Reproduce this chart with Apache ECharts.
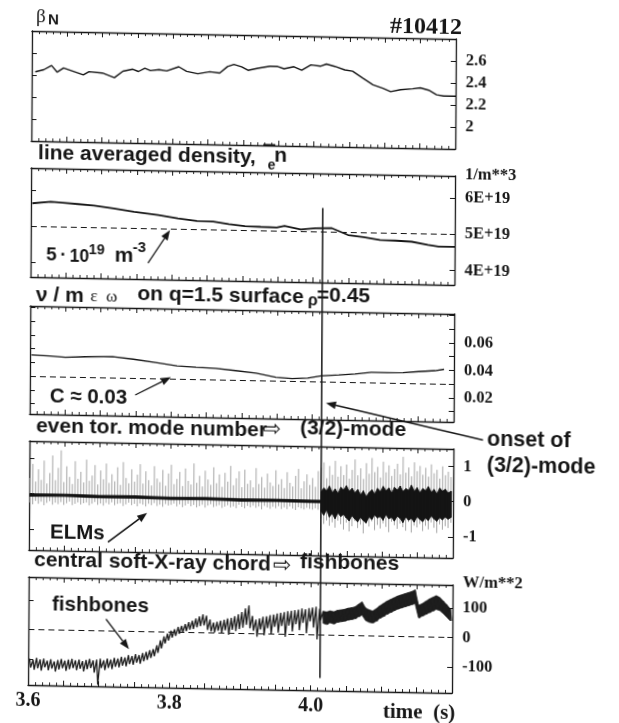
<!DOCTYPE html>
<html>
<head>
<meta charset="utf-8">
<script src="https://cdn.jsdelivr.net/npm/echarts@6/dist/echarts.min.js"></script>
<style>
  html, body { margin: 0; padding: 0; background: #fff; overflow: hidden; }
  /* the printed figure sits slightly skewed on the page */
  #chart { width: 619px; height: 723px; background: #fff;
           transform-origin: 32px 31px; transform: matrix(1, 0.0189, -0.006, 1, 0, 0); }
</style>
</head>
<body>
<div id="chart"></div>
<script>
// ---------- shot #10412, time traces ----------
const timeRange = [3.6, 4.2];
const timeLabels = [3.6, 3.8, 4.0];

// normalised beta
const betaTime = [3.605,3.617,3.628,3.636,3.645,3.659,3.673,3.681,3.700,3.717,3.729,3.743,3.751,3.760,3.768,3.780,3.791,3.808,3.819,3.835,3.852,3.866,3.877,3.886,3.897,3.906,3.920,3.937,3.948,3.957,3.971,3.982,3.995,4.009,4.017,4.029,4.043,4.054,4.068,4.083,4.097,4.108,4.122,4.139,4.150,4.162,4.173,4.183,4.200];
const betaN = [2.43,2.45,2.49,2.43,2.47,2.44,2.41,2.44,2.43,2.39,2.45,2.47,2.45,2.48,2.46,2.47,2.46,2.50,2.46,2.44,2.46,2.45,2.51,2.53,2.51,2.48,2.50,2.52,2.52,2.50,2.52,2.49,2.54,2.53,2.55,2.53,2.50,2.49,2.43,2.37,2.34,2.31,2.33,2.34,2.35,2.33,2.29,2.28,2.28];
const betaTicks = [2.0, 2.2, 2.4, 2.6];

// line averaged density (units of 1e19 m^-3)
const densityTime = [3.602,3.628,3.645,3.667,3.689,3.717,3.746,3.780,3.808,3.835,3.858,3.880,3.903,3.925,3.948,3.959,3.982,4.003,4.026,4.049,4.071,4.094,4.116,4.139,4.162,4.177,4.200];
const density = [5.63,5.68,5.66,5.63,5.60,5.53,5.45,5.37,5.29,5.23,5.22,5.16,5.11,5.10,5.09,5.14,5.05,5.09,5.10,4.92,4.87,4.80,4.79,4.77,4.69,4.65,4.65];
const densityTicks = [4, 5, 6];
const densityRef = 5;

// collisionality nu / (m eps omega) on q=1.5
const nuTime = [3.602,3.628,3.650,3.678,3.717,3.746,3.780,3.808,3.835,3.863,3.891,3.920,3.948,3.971,3.993,4.012,4.037,4.060,4.083,4.105,4.128,4.150,4.173,4.186];
const nu = [0.0455,0.0450,0.0443,0.0449,0.0454,0.0438,0.0416,0.0395,0.0388,0.0383,0.0369,0.0353,0.0326,0.0319,0.0324,0.0342,0.0351,0.0361,0.0375,0.0375,0.0377,0.0387,0.0396,0.0407];
const nuTicks = [0.01,0.02,0.03,0.04,0.05,0.06,0.07,0.08];
const nuLabels = [0.02, 0.04, 0.06];
const nuCritical = 0.03;

// even toroidal mode number signal: per-bin max / min (bins of 4 ms from 3.601 s)
const modeT0 = 3.601, modeDt = 0.004, modeBurstFrom = 103;
const modeHi = [
  0.45,0.85,0.35,0.7,0.4,0.95,0.3,0.6,1.1,0.4,
  0.75,1.25,0.35,0.8,0.5,0.3,0.95,0.45,0.65,0.35,
  1.0,0.4,0.55,0.85,0.3,0.7,0.45,0.9,0.35,0.6,
  0.4,0.8,0.3,0.95,0.5,0.35,0.75,0.4,0.6,0.9,
  0.35,0.7,0.45,0.3,0.85,0.5,0.4,0.75,0.3,0.65,
  0.9,0.35,0.5,0.7,0.3,0.8,0.45,0.35,0.95,0.4,
  0.6,0.3,0.75,0.5,0.35,0.85,0.4,0.65,0.3,0.7,
  0.45,0.9,0.35,0.55,0.75,0.3,0.8,0.4,0.5,0.3,
  0.85,0.4,0.6,0.3,0.7,0.45,0.35,0.8,0.4,0.55,
  0.3,0.75,0.45,0.35,0.65,0.85,0.3,0.5,0.7,0.4,
  0.6,0.35,0.8,
  0.9,1.05,0.6,0.95,0.7,1.1,0.65,
  0.95,0.7,1.0,0.6,0.85,1.15,0.7,0.9,0.6,1.05,
  0.75,1.2,0.8,0.95,0.65,1.1,0.8,1.0,0.7,0.9,
  1.05,0.75,1.25,0.8,0.95,0.7,1.1,0.85,1.0,0.75,
  0.95,0.7,1.05,0.8,0.9,0.65,1.0,0.75,0.85,0.7];
const modeLo = [
  -0.25,-0.3,-0.2,-0.28,-0.22,-0.32,-0.25,-0.2,-0.3,-0.24,
  -0.28,-0.22,-0.3,-0.25,-0.2,-0.3,-0.26,-0.22,-0.28,-0.24,
  -0.22,-0.3,-0.25,-0.2,-0.28,-0.24,-0.3,-0.22,-0.26,-0.2,
  -0.28,-0.24,-0.22,-0.3,-0.25,-0.2,-0.27,-0.23,-0.3,-0.22,
  -0.25,-0.3,-0.22,-0.26,-0.2,-0.28,-0.24,-0.3,-0.22,-0.26,
  -0.24,-0.2,-0.28,-0.22,-0.3,-0.25,-0.2,-0.27,-0.23,-0.3,
  -0.26,-0.22,-0.3,-0.24,-0.2,-0.28,-0.25,-0.22,-0.3,-0.26,
  -0.22,-0.28,-0.25,-0.3,-0.2,-0.26,-0.3,-0.23,-0.27,-0.22,
  -0.28,-0.24,-0.32,-0.22,-0.26,-0.3,-0.24,-0.28,-0.22,-0.3,
  -0.25,-0.3,-0.22,-0.28,-0.32,-0.24,-0.27,-0.3,-0.25,-0.28,
  -0.3,-0.26,-0.3,
  -0.55,-0.7,-0.6,-0.75,-0.65,-0.8,-0.6,
  -0.7,-0.85,-0.65,-0.9,-0.75,-0.6,-0.8,-0.7,-0.95,-0.65,
  -0.75,-0.6,-0.85,-0.7,-0.8,-0.65,-0.75,-0.9,-0.6,-0.7,
  -0.8,-0.65,-0.75,-0.85,-0.6,-0.9,-0.7,-0.75,-0.65,-0.85,
  -0.7,-0.8,-0.6,-0.75,-0.9,-0.65,-0.8,-0.7,-0.75,-0.6];
// dark core of the signal before the mode sets in
const coreTime = [3.600,3.650,3.700,3.750,3.800,3.850,3.900,3.950,4.000,4.013];
const coreHi = [0.00,0.01,-0.01,0.00,-0.02,-0.01,-0.03,-0.02,-0.03,-0.03];
const coreLo = [-0.07,-0.06,-0.08,-0.07,-0.09,-0.08,-0.10,-0.09,-0.10,-0.10];
// dense (3/2)-mode oscillation after onset, same 4 ms bins from bin 103
const burstHi = [0.22,0.32,0.25,0.38,0.2,0.3,0.18,
  0.35,0.28,0.4,0.24,0.33,0.2,0.3,0.15,0.26,0.1,
  0.22,0.3,0.18,0.34,0.25,0.4,0.28,0.36,0.22,0.38,
  0.3,0.42,0.26,0.35,0.3,0.45,0.28,0.38,0.24,0.36,
  0.3,0.42,0.26,0.34,0.22,0.38,0.3,0.35,0.25,0.3];
const burstLo = [-0.35,-0.45,-0.3,-0.5,-0.4,-0.55,-0.38,
  -0.48,-0.42,-0.52,-0.6,-0.45,-0.55,-0.62,-0.5,-0.58,-0.65,
  -0.48,-0.55,-0.42,-0.5,-0.46,-0.56,-0.4,-0.52,-0.48,-0.58,
  -0.44,-0.5,-0.62,-0.46,-0.55,-0.5,-0.6,-0.45,-0.52,-0.58,
  -0.48,-0.55,-0.42,-0.5,-0.56,-0.46,-0.52,-0.44,-0.5,-0.45];
const modeTicks = [-1, 0, 1];

// central soft-X-ray chord (W/m^2): sawtooth peaks and crashes, 5 ms bins from 3.602 s
const sxrT0 = 3.602, sxrDt = 0.005, sxrCrash = 0.0015, sxrBandFrom = 83;
const sxrHi = [
  -98,-102,-95,-100,-97,-104,-99,-106,-101,-97,
  -103,-99,-96,-101,-98,-103,-99,-95,-100,-97,
  -94,-99,-93,-96,-90,-92,-86,-88,-80,-83,
  -76,-79,-72,-68,-62,-58,-45,-28,-15,-5,
  5,10,18,22,28,35,40,48,55,62,
  58,45,35,38,42,45,50,52,58,65,
  72,85,95,60,48,52,58,60,64,66,
  70,72,75,78,80,82,84,88,86,90,
  92,95,88,80,78,82,79,84,86,88,
  92,94,97,106,114,94,88,84,92,102,
  110,118,124,130,136,140,144,148,152,158,
  106,112,120,128,134,140,134,122,110,96];
const sxrLo = [
  -128,-135,-130,-138,-126,-136,-130,-140,-133,-128,
  -137,-131,-127,-134,-129,-138,-130,-126,-141,-182,
  -125,-132,-124,-128,-120,-122,-116,-118,-110,-112,
  -105,-108,-100,-95,-88,-82,-70,-55,-38,-28,
  -18,-12,-5,0,5,10,12,18,22,25,
  10,5,2,8,0,10,-5,12,8,15,
  20,30,18,10,-10,15,-5,20,0,25,
  5,28,-8,30,10,35,15,40,5,45,
  25,-15,50,40,36,42,38,44,46,48,
  52,54,57,64,70,52,46,44,50,60,
  66,74,80,86,92,96,100,104,108,112,
  64,70,76,82,88,94,90,80,68,56];
const sxrTicks = [-100, 0, 100];
const sxrRef = 0;

// onset of the (3/2) mode
const onsetTime = 4.013;
const onsetFromDensity = 5.65;   // marker starts inside the density trace box
const onsetToSxr = -145;         // and ends near the bottom of the soft-X-ray box

// ---------- layout ----------
const INK = '#161616';
const SANS = '"Liberation Sans", Arial, sans-serif';
const SERIF = '"Liberation Serif", "Times New Roman", serif';

const panelBoxes = [
  { top: 31,  height: 110 },
  { top: 168, height: 109 },
  { top: 306, height: 108 },
  { top: 441, height: 109 },
  { top: 577, height: 108 }
];
const panelScales = [
  { min: 1.8,    max: 2.8,    ticks: betaTicks,    labels: betaTicks,    fmt: v => (Math.abs(v - 2) < 1e-9 ? '2' : v.toFixed(1)) },
  { min: 3.6,    max: 6.6,    ticks: densityTicks, labels: densityTicks, fmt: v => Math.round(v) + 'E+19' },
  { min: 0.0025, max: 0.0811, ticks: nuTicks,      labels: nuLabels,     fmt: v => v.toFixed(2) },
  { min: -1.6,   max: 1.5,    ticks: modeTicks,    labels: modeTicks,    fmt: v => String(Math.round(v)) },
  { min: -187,   max: 177,    ticks: sxrTicks,     labels: sxrTicks,     fmt: v => String(Math.round(v)) }
];

const grid = [], xAxis = [], yAxis = [];
panelBoxes.forEach((b, k) => {
  grid.push({ left: 32, width: 424, top: b.top, height: b.height });
  const xBase = {
    type: 'value', gridIndex: k, min: timeRange[0], max: timeRange[1], interval: 0.05,
    axisLine: { show: true, onZero: false, lineStyle: { color: INK, width: 1.3 } },
    axisTick: { show: true, inside: true, length: 5, lineStyle: { color: INK, width: 1 } },
    minorTick: { show: true, splitNumber: 5, length: 3, lineStyle: { color: INK, width: 0.9 } },
    splitLine: { show: false }, minorSplitLine: { show: false }
  };
  const last = k === panelBoxes.length - 1;
  xAxis.push(Object.assign({}, xBase, {
    position: 'bottom',
    axisLabel: last ? {
      show: true, customValues: timeLabels, margin: 6,
      formatter: v => (timeLabels.some(t => Math.abs(t - v) < 1e-6) ? v.toFixed(1) : ''),
      fontFamily: SERIF, fontWeight: 'bold', fontSize: 20, color: INK
    } : { show: false }
  }));
  xAxis.push(Object.assign({}, xBase, { position: 'top', axisLabel: { show: false } }));

  const s = panelScales[k];
  const yBase = {
    type: 'value', gridIndex: k, min: s.min, max: s.max,
    axisLine: { show: true, onZero: false, lineStyle: { color: INK, width: 1.3 } },
    axisTick: { show: true, inside: true, length: 5, customValues: s.ticks, lineStyle: { color: INK, width: 1 } },
    splitLine: { show: false }
  };
  yAxis.push(Object.assign({}, yBase, { position: 'left', axisLabel: { show: false } }));
  yAxis.push(Object.assign({}, yBase, {
    position: 'right',
    axisLabel: { show: true, customValues: s.labels, formatter: s.fmt, margin: 10,
                 fontFamily: SERIF, fontWeight: 'bold', fontSize: 16.5, color: INK }
  }));
});

const pairs = (ts, vs) => ts.map((t, i) => [t, vs[i]]);
const dashed = (v) => ({
  silent: true, symbol: 'none', label: { show: false },
  lineStyle: { type: [6, 4], color: INK, width: 1 },
  data: [{ yAxis: v }]
});
const onPanel = (k) => ({ xAxisIndex: 2 * k, yAxisIndex: 2 * k + 1 });
const lineBase = { type: 'line', symbol: 'none', silent: true, animation: false };

// min/max envelope drawn as one vertical stroke per time bin
function envelopeStrokes(k, rows, color, width) {
  return Object.assign({ type: 'custom', silent: true, animation: false, clip: true }, onPanel(k), {
    data: rows, encode: { x: 0, y: [1, 2] },
    renderItem: (params, api) => {
      const a = api.coord([api.value(0), api.value(1)]);
      const b = api.coord([api.value(0), api.value(2)]);
      return { type: 'line', shape: { x1: a[0], y1: a[1], x2: b[0], y2: b[1] },
               style: { stroke: color, lineWidth: width } };
    }
  });
}
// filled band between a lower and an upper trace
function filledBand(k, rows, color) {
  return Object.assign({ type: 'custom', silent: true, animation: false, clip: true }, onPanel(k), {
    data: rows, encode: { x: 0, y: [1, 2] },
    renderItem: (params, api) => {
      if (params.dataIndex !== 0) return null;
      const upper = rows.map(r => api.coord([r[0], r[2]]));
      const lower = rows.map(r => api.coord([r[0], r[1]])).reverse();
      return { type: 'polygon', shape: { points: upper.concat(lower) },
               style: { fill: color, stroke: color, lineWidth: 0.8 } };
    }
  });
}

const modeRows = modeHi.map((h, i) => [modeT0 + i * modeDt, modeLo[i], h]);
const coreRows = coreTime.map((t, i) => [t, coreLo[i], coreHi[i]]);
const burstRows = burstHi.map((h, i) => [modeT0 + (modeBurstFrom + i) * modeDt, burstLo[i], h]);
// sawtooth: peak, then crash
const sxrTrace = [];
sxrHi.forEach((h, i) => {
  const t = sxrT0 + i * sxrDt;
  sxrTrace.push([t, h]);
  sxrTrace.push([t + sxrCrash, sxrLo[i]]);
});
const sxrBandRows = [];
for (let i = sxrBandFrom; i < sxrHi.length; i++) sxrBandRows.push([sxrT0 + i * sxrDt, sxrLo[i], sxrHi[i]]);

const series = [
  Object.assign({}, lineBase, onPanel(0), { data: pairs(betaTime, betaN), lineStyle: { color: INK, width: 1.4 } }),
  Object.assign({}, lineBase, onPanel(1), { data: pairs(densityTime, density), lineStyle: { color: INK, width: 1.8 },
    markLine: dashed(densityRef) }),
  Object.assign({}, lineBase, onPanel(2), { data: pairs(nuTime, nu), lineStyle: { color: INK, width: 1.3 },
    markLine: dashed(nuCritical) }),
  envelopeStrokes(3, modeRows, '#8e8e8e', 0.8),
  filledBand(3, coreRows, '#111'),
  filledBand(3, burstRows, '#141414'),
  envelopeStrokes(3, burstRows, '#141414', 1.4),
  Object.assign({}, lineBase, onPanel(4), { data: sxrTrace, lineStyle: { color: '#1e1e1e', width: 1.3 },
    markLine: dashed(sxrRef) }),
  filledBand(4, sxrBandRows, '#1c1c1c')
];

const chart = echarts.init(document.getElementById('chart'), null, { renderer: 'canvas' });
chart.setOption({ animation: false, backgroundColor: '#fff', grid, xAxis, yAxis, series });

// ---------- titles, units and annotations ----------
const g = [];
function text(str, x, baseline, size, family, weight, align) {
  const asc = family === SERIF ? 0.3375 : 0.3465;
  g.push({ type: 'text', silent: true, z: 60, x: x, y: baseline - asc * size,
    style: { text: str, fill: INK, font: `${weight || 'normal'} ${size}px ${family}`,
             align: align || 'left', verticalAlign: 'middle' } });
}
function centred(str, x, middle, size, family, weight, align) {
  g.push({ type: 'text', silent: true, z: 60, x: x, y: middle,
    style: { text: str, fill: INK, font: `${weight || 'normal'} ${size}px ${family}`,
             align: align || 'left', verticalAlign: 'middle' } });
}
function arrow(x1, y1, x2, y2, w) {
  const a = Math.atan2(y2 - y1, x2 - x1), L = 10, W = 3.8;
  const bx = x2 - L * Math.cos(a), by = y2 - L * Math.sin(a);
  g.push({ type: 'line', silent: true, z: 60, shape: { x1, y1, x2: bx, y2: by },
           style: { stroke: INK, lineWidth: w || 1.4 } });
  g.push({ type: 'polygon', silent: true, z: 60,
           shape: { points: [[x2, y2], [bx + W * Math.sin(a), by - W * Math.cos(a)], [bx - W * Math.sin(a), by + W * Math.cos(a)]] },
           style: { fill: INK } });
}

// panel 1
text('\u03B2', 36, 23, 19, SERIF, 'normal');
text('N', 48, 25.5, 15, SANS, 'bold');
text('#10412', 462, 27.5, 24, SERIF, 'bold', 'right');
// panel 2
text('line averaged density,', 38.8, 160.6, 21, SANS, 'bold');
g.push({ type: 'rect', silent: true, z: 60, shape: { x: 264, y: 139.5, width: 12, height: 1.8 }, style: { fill: INK } });
text('n', 275, 158.5, 21, SANS, 'bold');
text('e', 268.5, 166, 14, SANS, 'bold');
centred('1/m**3', 466, 166.3, 16.5, SERIF, 'bold');
text('5', 47.5, 261.8, 19, SANS, 'bold');
text('\u00B7', 61.5, 261.8, 19, SANS, 'bold');
text('10', 71, 261.8, 17.5, SANS, 'bold');
text('19', 90, 253.8, 14.5, SANS, 'bold');
text('m', 116, 261.8, 21, SANS, 'bold');
text('-3', 134, 251.5, 15, SANS, 'bold');
arrow(149.4, 260.8, 171.2, 227.5, 1.2);
// panel 3
text('\u03BD / m', 37.6, 302.5, 21, SANS, 'bold');
text('\u03B5  \u03C9', 92, 301.6, 17, SERIF, 'normal');
text('on q=1.5 surface', 139, 299.4, 21, SANS, 'bold');
text('\u03C1', 309.6, 301.2, 16, SANS, 'bold');
text('=0.45', 318.6, 297.1, 21, SANS, 'bold');
text('C \u2248 0.03', 52, 403.9, 20.5, SANS, 'bold');
arrow(137.4, 393, 173, 374.5, 1.2);
// panel 4
text('even tor. mode number', 38.4, 433.4, 21, SANS, 'bold');
centred('\u21E8', 265, 425.6, 22, '"DejaVu Sans", sans-serif', 'normal');
text('(3/2)-mode', 302.4, 430.9, 21, SANS, 'bold');
text('ELMs', 53, 539.1, 20.5, SANS, 'bold');
arrow(111, 540.6, 150, 510.8, 1.6);
text('onset of', 489.5, 438.8, 21.5, SANS, 'bold');
text('(3/2)-mode', 489.5, 464.6, 21.5, SANS, 'bold');
arrow(485.5, 431.5, 328.2, 397.4, 1.6);
// panel 5
text('central soft-X-ray chord', 37.2, 567.7, 21, SANS, 'bold');
centred('\u21E8', 276, 561.3, 22, '"DejaVu Sans", sans-serif', 'normal');
text('fishbones', 303.2, 564, 21, SANS, 'bold');
centred('W/m**2', 466.3, 574.3, 16.5, SERIF, 'bold');
text('fishbones', 55.5, 611.7, 20.5, SANS, 'bold');
arrow(109.5, 617.6, 132.7, 647.2, 1.4);
centred('time  (s)', 387, 705.6, 21, SERIF, 'bold');

// onset marker across the lower four traces, placed through the axes
const ox = chart.convertToPixel({ xAxisIndex: 2 }, onsetTime);
const oy1 = chart.convertToPixel({ yAxisIndex: 3 }, onsetFromDensity);
const oy2 = chart.convertToPixel({ yAxisIndex: 9 }, onsetToSxr);
g.push({ type: 'line', silent: true, z: 55, shape: { x1: ox, y1: oy1, x2: ox, y2: oy2 },
         style: { stroke: INK, lineWidth: 1.5 } });

chart.setOption({ graphic: g });
</script>
</body>
</html>
